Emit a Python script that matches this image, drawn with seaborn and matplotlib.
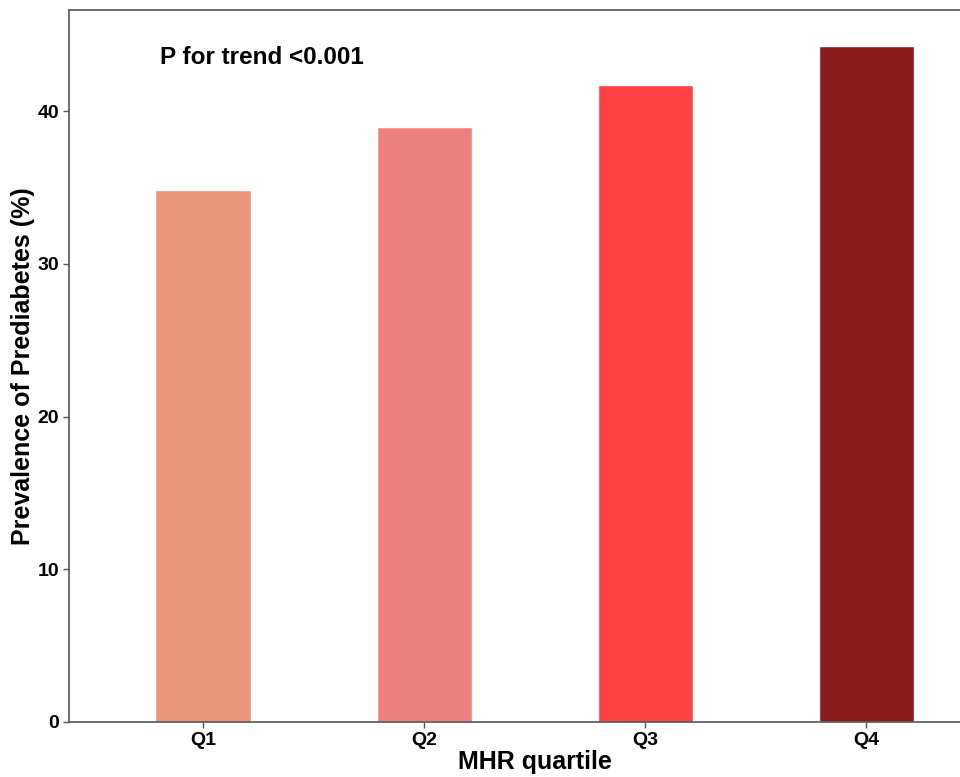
import seaborn as sns
import matplotlib.pyplot as plt
import pandas as pd

# data
quartiles = ["Q1", "Q2", "Q3", "Q4"]
prevalence = [34.8, 38.95, 41.7, 44.25]
bar_colors = ["#E9967A", "#EE7F7F", "#FE4143", "#8B1A1A"]

df = pd.DataFrame({"quartile": quartiles, "prevalence": prevalence})

sns.set_style("white")
plt.rcParams["font.family"] = ["Liberation Sans", "DejaVu Sans"]
plt.rcParams["font.weight"] = "bold"
plt.rcParams["text.color"] = "black"
plt.rcParams["axes.labelcolor"] = "black"
plt.rcParams["xtick.color"] = "black"
plt.rcParams["ytick.color"] = "black"

fig = plt.figure(figsize=(9.6, 7.77), dpi=100)
# the original panel runs past the right edge of the picture
ax = fig.add_axes([0.0719, 0.0708, 0.971, 0.916])

sns.barplot(data=df, x="quartile", y="prevalence", hue="quartile",
            palette=bar_colors, width=0.43, legend=False, ax=ax,
            errorbar=None, saturation=1)

ax.set_xlim(-0.606, 3.611)
ax.set_ylim(0, 46.6)
ax.set_yticks([0, 10, 20, 30, 40])

ax.set_xlabel("MHR quartile", fontsize=18, fontweight="bold", labelpad=1)
ax.set_ylabel("Prevalence of Prediabetes (%)", fontsize=18, fontweight="bold", labelpad=2)
ax.tick_params(axis="both", labelsize=14, length=4, color="#555555", width=1,
               pad=3, left=True, bottom=True, labelcolor="black")
for lab in ax.get_xticklabels() + ax.get_yticklabels():
    lab.set_fontweight("bold")

for side in ["left", "bottom", "top"]:
    ax.spines[side].set_color("#555555")
    ax.spines[side].set_linewidth(1.2)
ax.spines["right"].set_visible(False)

ax.text(-0.195, 43.5, "P for trend <0.001", fontsize=17.5, fontweight="bold",
        ha="left", va="center", color="black")

fig.savefig("out.png", dpi=100)
